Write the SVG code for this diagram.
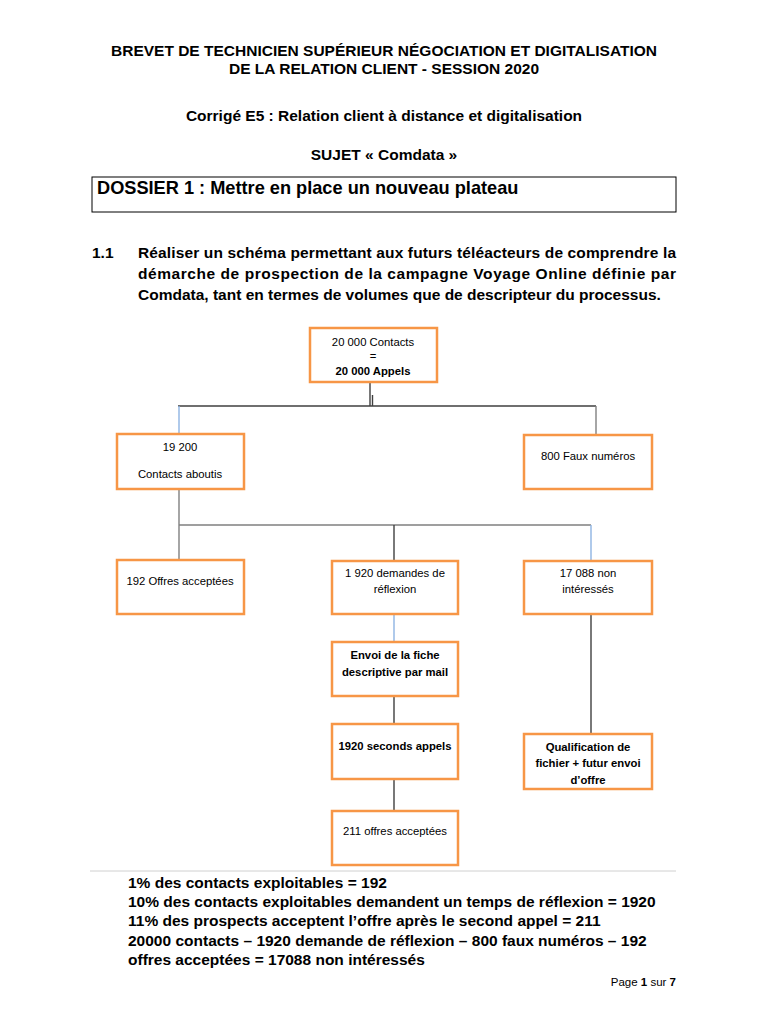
<svg xmlns="http://www.w3.org/2000/svg" width="768" height="1024" viewBox="0 0 768 1024">
<style>
.h{font-family:"Liberation Sans",Arial,sans-serif;font-weight:bold;fill:#000}
.b{font-family:"Liberation Sans",Arial,sans-serif;font-size:11.3px;fill:#000;text-anchor:middle}
.bb{font-weight:bold}
.node rect{fill:#fff;stroke:#F79646;stroke-width:2.5}
.c{stroke:#404040;stroke-width:1.4;fill:none}
.g{stroke:#808080;stroke-width:1.4;fill:none}
.bl{stroke:#8EB4E3;stroke-width:1.4;fill:none}
</style>
<rect width="768" height="1024" fill="#fff"/>
<g id="header">
<text class="h" x="384" y="56" font-size="15.5" text-anchor="middle">BREVET DE TECHNICIEN SUPÉRIEUR NÉGOCIATION ET DIGITALISATION</text>
<text class="h" x="384" y="74" font-size="15.5" text-anchor="middle">DE LA RELATION CLIENT - SESSION 2020</text>
<text class="h" x="384" y="121" font-size="15.5" text-anchor="middle">Corrigé E5 : Relation client à distance et digitalisation</text>
<text class="h" x="384" y="160" font-size="15.5" text-anchor="middle">SUJET « Comdata »</text>
<rect x="92" y="177" width="584" height="35" fill="none" stroke="#000" stroke-width="1"/>
<text class="h" x="97" y="194" font-size="18.2">DOSSIER 1 : Mettre en place un nouveau plateau</text>
<text class="h" x="92" y="258" font-size="15.5">1.1</text>
<text class="h" x="138" y="258" font-size="15.5" textLength="538" lengthAdjust="spacing">Réaliser un schéma permettant aux futurs téléacteurs de comprendre la</text>
<text class="h" x="138" y="279" font-size="15.5" textLength="538" lengthAdjust="spacing">démarche de prospection de la campagne Voyage Online définie par</text>
<text class="h" x="138" y="300" font-size="15.5">Comdata, tant en termes de volumes que de descripteur du processus.</text>
</g>
<g id="connectors">
<path class="c" d="M370 382 V406 M372.5 395 V406 M178 406 H596"/>
<path class="bl" d="M179 406 V434"/>
<path class="g" d="M596 406 V435"/>
<path class="g" d="M179 489 V560 M179 525 H591"/>
<path class="c" d="M394 525 V561"/>
<path class="bl" d="M591 525 V561"/>
<path class="bl" d="M394 614 V642"/>
<path class="c" d="M394 696 V724 M394 779 V811"/>
<path class="c" d="M591 614 V734"/>
</g>
<g id="n1" class="node"><rect x="310" y="328" width="127" height="54"/>
<text class="b" x="373" y="346">20 000 Contacts</text><text class="b" x="373" y="360">=</text><text class="b bb" x="373" y="375">20 000 Appels</text></g>
<g id="n2" class="node"><rect x="117" y="434" width="127" height="55"/>
<text class="b" x="180" y="451">19 200</text><text class="b" x="180" y="478">Contacts aboutis</text></g>
<g id="n3" class="node"><rect x="524" y="435" width="128" height="54"/>
<text class="b" x="588" y="460">800 Faux numéros</text></g>
<g id="n4" class="node"><rect x="117" y="560" width="127" height="54"/>
<text class="b" x="180" y="585">192 Offres acceptées</text></g>
<g id="n5" class="node"><rect x="332" y="561" width="126" height="53"/>
<text class="b" x="395" y="577">1 920 demandes de</text><text class="b" x="395" y="593">réflexion</text></g>
<g id="n6" class="node"><rect x="524" y="561" width="128" height="53"/>
<text class="b" x="588" y="577">17 088 non</text><text class="b" x="588" y="593">intéressés</text></g>
<g id="n7" class="node"><rect x="332" y="642" width="126" height="54"/>
<text class="b bb" x="395" y="659">Envoi de la fiche</text><text class="b bb" x="395" y="676">descriptive par mail</text></g>
<g id="n8" class="node"><rect x="332" y="724" width="126" height="55"/>
<text class="b bb" x="395" y="750">1920 seconds appels</text></g>
<g id="n9" class="node"><rect x="524" y="734" width="128" height="55"/>
<text class="b bb" x="588" y="751">Qualification de</text><text class="b bb" x="588" y="767">fichier + futur envoi</text><text class="b bb" x="588" y="784">d’offre</text></g>
<g id="n10" class="node"><rect x="332" y="811" width="126" height="54"/>
<text class="b" x="395" y="835">211 offres acceptées</text></g>
<g id="footer">
<line x1="90" y1="871" x2="676" y2="871" stroke="#d0d0d0" stroke-width="1"/>
<text class="h" x="128" y="888" font-size="15.5">1% des contacts exploitables = 192</text>
<text class="h" x="128" y="907" font-size="15.5">10% des contacts exploitables demandent un temps de réflexion = 1920</text>
<text class="h" x="128" y="926" font-size="15.5">11% des prospects acceptent l’offre après le second appel = 211</text>
<text class="h" x="128" y="946" font-size="15.5">20000 contacts – 1920 demande de réflexion – 800 faux numéros – 192</text>
<text class="h" x="128" y="965" font-size="15.5">offres acceptées = 17088 non intéressés</text>
<text x="676" y="986" font-family="'Liberation Sans',Arial,sans-serif" font-size="11.5" text-anchor="end" fill="#000">Page <tspan font-weight="bold">1</tspan> sur <tspan font-weight="bold">7</tspan></text>
</g>
</svg>
